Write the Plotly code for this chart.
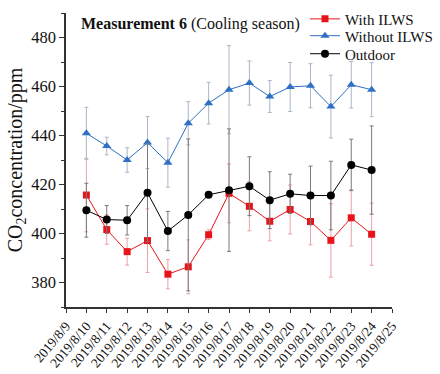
import plotly.graph_objects as go

dates = ["2019-08-%02d" % d for d in range(10, 25)]
tick_dates = ["2019-08-%02d" % d for d in range(9, 26)]
tick_labels = ["2019/8/%d" % d for d in range(9, 26)]

with_ilws = [415.7, 401.6, 392.6, 397.1, 383.4, 386.4, 399.5, 416.4, 411.1, 405.0, 409.8, 404.9, 397.2, 406.4, 399.7]
with_err = [15, 6, 5.5, 13, 6, 11, 2, 12, 10, 8, 10, 9.5, 15, 11.5, 12.7]
without_ilws = [440.9, 435.7, 430.0, 437.1, 428.9, 445.0, 453.2, 458.7, 461.4, 455.9, 459.8, 460.3, 451.8, 460.7, 458.7]
without_err = [10.6, 3.6, 5, 10.6, 10, 8.8, 8.5, 18, 9, 6.5, 10, 9, 12.8, 9.5, 11]
outdoor = [409.5, 405.7, 405.4, 416.6, 401.0, 407.6, 415.8, 417.7, 419.3, 413.6, 416.2, 415.5, 415.5, 428.0, 425.9]
outdoor_err = [11, 5.7, 6, 20, 8, 31, 1, 25, 12, 11.6, 8, 12, 14, 10.5, 18]

serif = "Liberation Serif, Times New Roman, serif"

fig = go.Figure()

def add(name, y, err, color, ecolor, symbol, size, legend):
    fig.add_trace(go.Scatter(
        x=dates, y=y, name=name, mode="lines+markers", legend=legend,
        line=dict(color=color, width=1),
        marker=dict(symbol=symbol, size=size, color=color),
        error_y=dict(type="data", array=err, visible=True, color=ecolor, thickness=1, width=2),
    ))

add("With ILWS", with_ilws, with_err, "#e8141c", "#e9a3a6", "square", 7, "legend")
add("Without ILWS", without_ilws, without_err, "#2f6fc4", "#a9b7c9", "triangle-up", 8, "legend2")
add("Outdoor", outdoor, outdoor_err, "#000000", "#7a7a7a", "circle", 8, "legend3")

def leg(y):
    return dict(x=305 / 440, y=y, xanchor="left", yanchor="top", xref="container", yref="container",
                font=dict(size=15, family=serif, color="#111"), bgcolor="rgba(0,0,0,0)",
                itemwidth=30)

fig.update_layout(
    width=440, height=374,
    margin=dict(l=66, r=48, t=13, b=67, autoexpand=False),
    plot_bgcolor="white", paper_bgcolor="white",
    font=dict(family=serif, color="#111"),
    showlegend=True,
    legend=leg(0.993), legend2=leg(0.948), legend3=leg(0.8998),
    xaxis=dict(
        type="date", range=["2019-08-09", "2019-08-25"], automargin=False,
        tickmode="array", tickvals=tick_dates, ticktext=tick_labels,
        tickangle=-50, tickfont=dict(size=13.5, family=serif),
        showline=True, linecolor="#333", linewidth=1.5,
        ticks="outside", ticklen=4, tickcolor="#333",
        showgrid=False, zeroline=False,
    ),
    yaxis=dict(
        range=[370, 490], tickvals=[380, 400, 420, 440, 460, 480], automargin=False,
        tickfont=dict(size=16.5, family=serif),
        showline=True, linecolor="#333", linewidth=1.5,
        ticks="outside", ticklen=5, tickcolor="#333",
        minor=dict(dtick=10, ticks="outside", ticklen=3, tickcolor="#333"),
        showgrid=False, zeroline=False,
        title=dict(text="CO<sub>2</sub>concentration/ppm", font=dict(size=20, family=serif), standoff=3),
    ),
)

fig.add_annotation(
    x=0.04, y=1.0, xref="paper", yref="paper", xanchor="left", yanchor="top",
    text="<b>Measurement 6</b> (Cooling season)", showarrow=False,
    font=dict(size=16, family=serif, color="#111"),
)

fig.write_html("out.html")
